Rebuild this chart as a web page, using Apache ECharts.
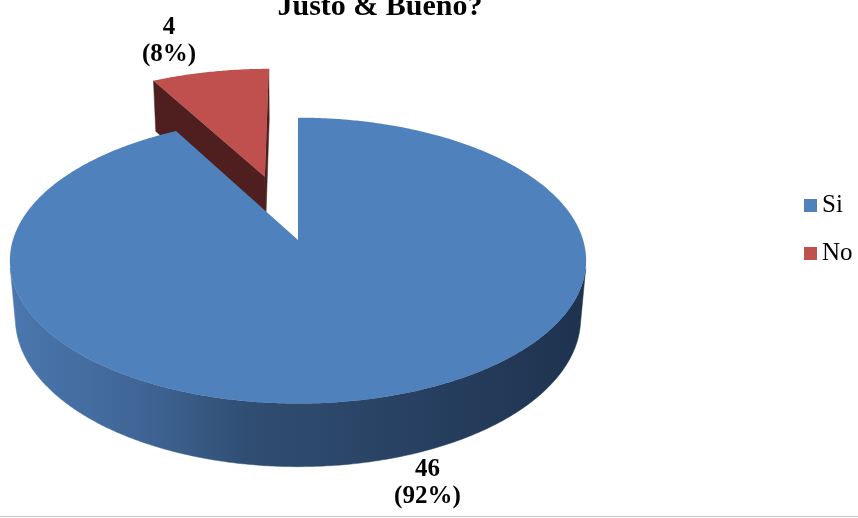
<!DOCTYPE html>
<html>
<head>
<meta charset="utf-8">
<script src="https://cdn.jsdelivr.net/npm/echarts@6/dist/echarts.min.js"></script>
<style>
html,body{margin:0;padding:0;background:#fff;}
#chart{width:858px;height:518px;}
</style>
</head>
<body>
<div id="chart"></div>
<script>
// ---- data ----
const titleText = 'Justo & Bueno?';
const categories = ['Si', 'No'];
const values = [46, 4];

// ---- styles ----
const topColors = ['#4F81BD', '#C0504D'];
const cutColors = ['#2B4A70', '#4E1F1E'];
const wallStops = [
  [[0, '#4A77AE'], [0.24, '#3F6494'], [0.41, '#304E72'], [0.62, '#2A4466'], [1, '#1E324E']],
  [[0, '#8A3634'], [1, '#5A2221']]
];
const serif = '"Liberation Serif", "Times New Roman", serif';

// ---- layout (3D camera) ----
const CX = 298, CY = 240, FOCAL = 1725, DIST = 6.05, ALPHA = 29.4 * Math.PI / 180, THICK = 0.235;
const explode = [0, 0.5];
const labelOffsets = [[47, 86], [-41, -31]];
const SA = Math.sin(ALPHA), CA = Math.cos(ALPHA);
const CAM = [0, DIST * SA, -DIST * CA];

function project(x, y, z) {
  const px = x - CAM[0], py = y - CAM[1], pz = z - CAM[2];
  const d = -py * SA + pz * CA;
  const v = py * CA + pz * SA;
  return [CX + FOCAL * px / d, CY - FOCAL * v / d];
}

const total = values.reduce((a, b) => a + b, 0);
const starts = [];
let acc = 0;
values.forEach(v => { starts.push(acc / total * Math.PI * 2); acc += v; });

function geom(i) {
  const start = starts[i];
  const end = start + values[i] / total * Math.PI * 2;
  const mid = (start + end) / 2;
  const ox = explode[i] * Math.sin(mid), oz = explode[i] * Math.cos(mid);
  return { start, end, mid, ox, oz };
}

function renderSlice(i, api) {
  const g = geom(i);
  const { start, end, mid, ox, oz } = g;
  const pt = (a, r, y) => project(ox + r * Math.sin(a), y, oz + r * Math.cos(a));
  const children = [];
  // radial cut faces
  [[start, -1], [end, 1]].forEach(([a, sgn]) => {
    const nx = sgn * Math.cos(a), nz = -sgn * Math.sin(a);
    const px = ox + 0.5 * Math.sin(a), pz = oz + 0.5 * Math.cos(a);
    const dot = nx * (CAM[0] - px) + nz * (CAM[2] - pz);
    if (dot > 0) {
      children.push({
        type: 'polygon',
        shape: { points: [pt(a, 0, 0), pt(a, 1, 0), pt(a, 1, -THICK), pt(a, 0, -THICK)] },
        style: { fill: cutColors[i], stroke: cutColors[i], lineWidth: 0.5 }
      });
    }
  });
  // outer wall
  const N = Math.max(2, Math.ceil((end - start) / (Math.PI / 360)));
  const runs = [];
  let cur = null;
  for (let k = 0; k <= N; k++) {
    const a = start + (end - start) * k / N;
    const px = ox + Math.sin(a), pz = oz + Math.cos(a);
    const dot = Math.sin(a) * (CAM[0] - px) + Math.cos(a) * (CAM[2] - pz);
    if (dot > 0) {
      if (!cur) { cur = []; runs.push(cur); }
      cur.push(a);
    } else cur = null;
  }
  runs.forEach(run => {
    if (run.length < 2) return;
    const top = run.map(a => pt(a, 1, 0));
    const bot = run.map(a => pt(a, 1, -THICK)).reverse();
    const grad = {
      type: 'linear', global: true, x: 10, y: 0, x2: 590, y2: 0,
      colorStops: wallStops[i].map(s => ({ offset: s[0], color: s[1] }))
    };
    children.push({
      type: 'polygon',
      shape: { points: top.concat(bot) },
      style: { fill: grad, stroke: grad, lineWidth: 0.5 }
    });
  });
  // top face
  const topPts = [pt(0, 0, 0)];
  for (let k = 0; k <= N; k++) topPts.push(pt(start + (end - start) * k / N, 1, 0));
  children.push({
    type: 'polygon',
    shape: { points: topPts },
    style: { fill: topColors[i] }
  });
  // label
  const anchor = pt(mid, 1, 0);
  const pct = Math.round(values[i] / total * 100);
  children.push({
    type: 'text',
    style: {
      text: values[i] + '\n(' + pct + '%)',
      x: anchor[0] + labelOffsets[i][0],
      y: anchor[1] + labelOffsets[i][1],
      fill: '#000',
      fontSize: 25, fontWeight: 'bold', fontFamily: serif,
      lineHeight: 27,
      align: 'center', verticalAlign: 'middle'
    }
  });
  return { type: 'group', children };
}

// draw back slices first
const order = categories.map((c, i) => i).sort((a, b) => {
  const ga = geom(a), gb = geom(b);
  return (gb.oz + 0.6 * Math.cos(gb.mid)) - (ga.oz + 0.6 * Math.cos(ga.mid));
});

const series = order.map((i, rank) => ({
  type: 'custom',
  name: categories[i],
  coordinateSystem: 'none',
  data: [values[i]],
  z: 2 + rank,
  itemStyle: { color: topColors[i] },
  silent: true,
  renderItem: (params, api) => renderSlice(i, api)
}));

const chart = echarts.init(document.getElementById('chart'), null, { renderer: 'canvas' });
chart.setOption({
  animation: false,
  backgroundColor: '#fff',
  legend: {
    data: categories,
    orient: 'vertical',
    left: 799, top: 188,
    icon: 'rect', itemWidth: 13, itemHeight: 13, itemGap: 23,
    textStyle: { fontFamily: serif, fontSize: 25, color: '#000', lineHeight: 24 }
  },
  graphic: [
    {
      type: 'text', x: 380, y: 7,
      style: {
        text: titleText, fill: '#000',
        fontSize: 30, fontWeight: 'bold', fontFamily: serif,
        align: 'center', verticalAlign: 'middle'
      }
    },
    {
      type: 'line', shape: { x1: 0, y1: 516.5, x2: 858, y2: 516.5 },
      style: { stroke: '#C8C8C8', lineWidth: 1 }
    }
  ],
  series
});
</script>
</body>
</html>
